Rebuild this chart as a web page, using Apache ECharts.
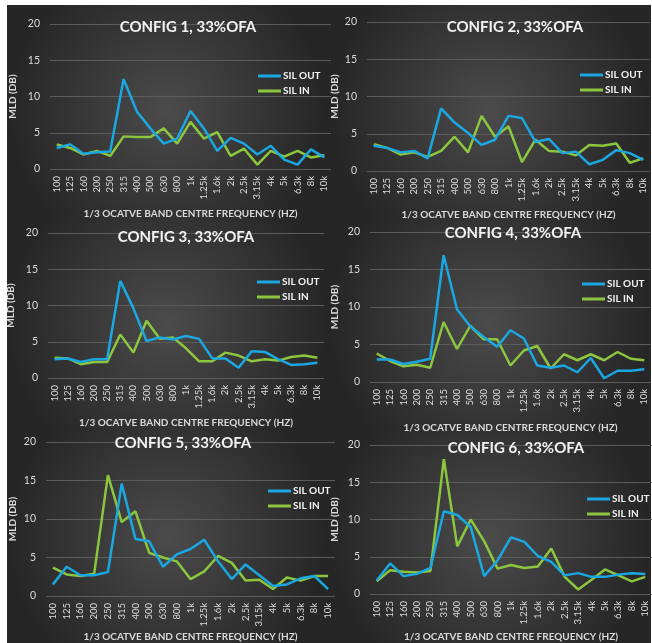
<!DOCTYPE html>
<html>
<head>
<meta charset="utf-8">
<script src="https://cdn.jsdelivr.net/npm/echarts@6/dist/echarts.min.js"></script>
<style>
    html, body { margin: 0; padding: 0; background: #fff; }
    #chart { width: 652px; height: 643px; }
</style>
</head>
<body>
<div id="chart"></div>
<script>
// 1/3 octave bands
var bands = ['100', '125', '160', '200', '250', '315', '400', '500', '630', '800', '1k',
    '1.25k', '1.6k', '2k', '2.5k', '3.15k', '4k', '5k', '6.3k', '8k', '10k'];
var yTicks = [0, 5, 10, 15, 20];
var titles = ['CONFIG 1, 33%OFA', 'CONFIG 2, 33%OFA', 'CONFIG 3, 33%OFA',
    'CONFIG 4, 33%OFA', 'CONFIG 5, 33%OFA', 'CONFIG 6, 33%OFA'];

var out1 = [2.9, 3.4, 2.1, 2.3, 2.4, 12.4, 7.9, 5.6, 3.5, 4.2, 8.0, 5.6, 2.5, 4.3, 3.5, 2.0, 3.2, 1.3, 0.6, 2.7, 1.6];
var in1 = [3.4, 2.9, 2.0, 2.5, 1.8, 4.5, 4.4, 4.4, 5.6, 3.5, 6.5, 4.2, 5.1, 1.8, 2.8, 0.6, 2.5, 1.7, 2.5, 1.6, 1.9];
var out2 = [3.4, 3.1, 2.5, 2.7, 1.7, 8.4, 6.5, 5.1, 3.5, 4.2, 7.4, 7.1, 3.9, 4.3, 2.4, 2.6, 0.9, 1.5, 2.8, 2.4, 1.5];
var in2 = [3.6, 3.1, 2.2, 2.5, 1.9, 2.7, 4.6, 2.5, 7.4, 4.6, 6.0, 1.2, 4.2, 2.7, 2.6, 2.1, 3.5, 3.4, 3.7, 1.1, 1.7];
var out3 = [2.6, 2.7, 2.2, 2.6, 2.6, 13.4, 9.6, 5.1, 5.6, 5.3, 5.8, 5.4, 2.7, 2.7, 1.4, 3.7, 3.6, 2.6, 1.8, 1.9, 2.1];
var in3 = [2.8, 2.7, 1.9, 2.2, 2.2, 6.0, 3.5, 7.9, 5.4, 5.6, 4.1, 2.3, 2.3, 3.5, 3.1, 2.3, 2.6, 2.4, 2.9, 3.1, 2.8];
var out4 = [3.0, 3.0, 2.4, 2.7, 3.1, 16.9, 9.7, 7.4, 6.0, 4.7, 6.9, 5.8, 2.2, 1.9, 2.2, 1.3, 3.2, 0.5, 1.5, 1.5, 1.7];
var in4 = [3.8, 2.8, 2.1, 2.3, 1.9, 8.0, 4.4, 7.5, 5.7, 5.7, 2.2, 4.2, 4.8, 1.8, 3.7, 2.9, 3.7, 2.9, 4.0, 3.1, 2.9];
var out5 = [1.5, 3.8, 2.7, 2.7, 3.1, 14.6, 7.4, 7.1, 3.8, 5.4, 6.1, 7.3, 4.5, 2.2, 4.1, 2.7, 1.3, 1.5, 2.3, 2.6, 0.9];
var in5 = [3.7, 2.8, 2.6, 2.9, 15.7, 9.6, 11.0, 5.6, 5.0, 4.5, 2.2, 3.2, 5.2, 4.3, 2.0, 2.1, 0.9, 2.4, 2.0, 2.6, 2.6];
var out6 = [1.8, 4.1, 2.4, 2.7, 3.5, 11.1, 10.6, 9.0, 2.4, 4.5, 7.6, 7.0, 5.1, 4.3, 2.5, 2.8, 2.3, 2.3, 2.6, 2.8, 2.7];
var in6 = [1.7, 3.2, 3.0, 2.9, 3.1, 18.1, 6.4, 10.0, 7.1, 3.4, 3.9, 3.5, 3.7, 6.1, 2.3, 0.6, 1.9, 3.3, 2.5, 1.7, 2.3];

var outData = [out1, out2, out3, out4, out5, out6];
var inData = [in1, in2, in3, in4, in5, in6];

// panel layout (pixels)
var panels = [
    { bx: 7, by: 5, bw: 320, bh: 211, left: 50, width: 281, top: 24, y0: 169, tx: 183, ty: 24, lx: 253, ly: 66, xGap: 40, yGap: 32 },
    { bx: 327, by: 5, bw: 324, bh: 211, left: 367, width: 283, top: 22, y0: 171, tx: 510, ty: 24, lx: 575, ly: 65, xGap: 39, yGap: 27 },
    { bx: 7, by: 216, bw: 320, bh: 214, left: 48, width: 276, top: 233, y0: 378, tx: 181, ty: 234, lx: 252, ly: 272, xGap: 40, yGap: 32 },
    { bx: 327, by: 216, bw: 324, bh: 214, left: 370, width: 281, top: 232, y0: 382, tx: 508, ty: 230, lx: 577, ly: 274, xGap: 41, yGap: 30 },
    { bx: 7, by: 430, bw: 320, bh: 213, left: 46, width: 289, top: 442, y0: 601, tx: 178, ty: 440, lx: 263, ly: 481, xGap: 36, yGap: 28 },
    { bx: 327, by: 430, bw: 324, bh: 213, left: 370, width: 282, top: 445, y0: 599, tx: 511, ty: 445, lx: 582, ly: 489, xGap: 38, yGap: 30 }
];

var BLUE = '#1aa7e2';
var GREEN = '#8cc63f';
var TXT = '#d9d9d9';
var FONT = 'Lato, "DejaVu Sans", sans-serif';

var mychart = echarts.init(document.getElementById('chart'));

var grids = [], xAxes = [], yAxes = [], series = [], legends = [], titleList = [], bgs = [];

for (var i = 0; i < panels.length; i++) {
    var p = panels[i];
    bgs.push({
        type: 'rect',
        z: -10,
        shape: { x: p.bx, y: p.by, width: p.bw, height: p.bh },
        style: {
            fill: new echarts.graphic.RadialGradient(0.5, 0.5, 0.75, [
                { offset: 0, color: '#4b4b4b' },
                { offset: 1, color: '#262626' }
            ])
        }
    });
    grids.push({
        left: p.left,
        top: p.top,
        width: p.width,
        height: p.y0 - p.top,
        containLabel: false
    });
    titleList.push({
        text: titles[i],
        left: p.tx,
        top: p.ty - 9,
        textAlign: 'center',
        textStyle: {
            color: '#f2f2f2',
            fontFamily: FONT,
            fontWeight: 'bold',
            fontSize: 15
        }
    });
    legends.push({
        left: p.lx,
        top: p.ly,
        orient: 'vertical',
        icon: 'rect',
        itemWidth: 23,
        itemHeight: 3,
        itemGap: 5,
        data: ['SIL OUT', 'SIL IN'],
        textStyle: {
            color: '#f2f2f2',
            fontFamily: FONT,
            fontWeight: 'bold',
            fontSize: 10,
            padding: [0, 0, 0, -3]
        }
    });
    xAxes.push({
        gridIndex: i,
        type: 'category',
        boundaryGap: true,
        data: bands,
        name: '1/3 OCATVE BAND CENTRE FREQUENCY (HZ)',
        nameLocation: 'middle',
        nameGap: p.xGap,
        nameTextStyle: {
            color: TXT,
            fontFamily: FONT,
            fontWeight: 'bold',
            fontSize: 10
        },
        axisLine: { show: false },
        axisTick: { show: false },
        axisLabel: {
            rotate: 90,
            interval: 0,
            margin: 7,
            color: TXT,
            fontFamily: FONT,
            fontSize: 9.5
        }
    });
    yAxes.push({
        gridIndex: i,
        type: 'value',
        min: yTicks[0],
        max: yTicks[yTicks.length - 1],
        interval: yTicks[1] - yTicks[0],
        name: 'MLD (DB)',
        nameLocation: 'middle',
        nameGap: p.yGap,
        nameTextStyle: {
            color: TXT,
            fontFamily: FONT,
            fontWeight: 'bold',
            fontSize: 10
        },
        axisLine: { show: false },
        axisTick: { show: false },
        axisLabel: {
            margin: 10,
            color: TXT,
            fontFamily: FONT,
            fontSize: 10.5
        },
        splitLine: {
            lineStyle: { color: '#5c5c5c', width: 1 }
        }
    });
    series.push({
        name: 'SIL OUT',
        type: 'line',
        xAxisIndex: i,
        yAxisIndex: i,
        data: outData[i],
        symbol: 'none',
        itemStyle: { color: BLUE },
        lineStyle: { color: BLUE, width: 2.5 },
        z: 3
    });
    series.push({
        name: 'SIL IN',
        type: 'line',
        xAxisIndex: i,
        yAxisIndex: i,
        data: inData[i],
        symbol: 'none',
        itemStyle: { color: GREEN },
        lineStyle: { color: GREEN, width: 2.5 },
        z: 2
    });
}

var chartOption = {
    backgroundColor: '#ffffff',
    animation: false,
    graphic: bgs,
    title: titleList,
    legend: legends,
    grid: grids,
    xAxis: xAxes,
    yAxis: yAxes,
    series: series
};
mychart.setOption(chartOption);
</script>
</body>
</html>
